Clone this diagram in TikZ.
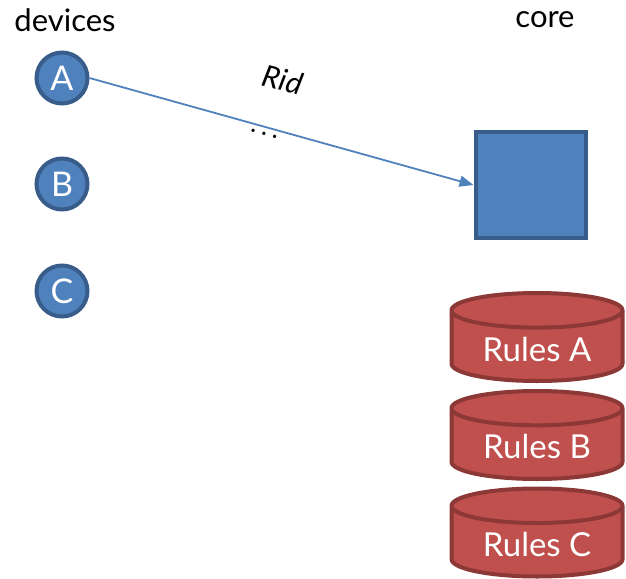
\documentclass[tikz,border=0pt]{standalone}
\usepackage{fontspec}
\setmainfont{Lato}
\usetikzlibrary{arrows.meta,shapes.geometric}
\definecolor{devfill}{HTML}{4F81BD}
\definecolor{devline}{HTML}{385D8A}
\definecolor{rulefill}{HTML}{C0504D}
\definecolor{ruleline}{HTML}{8C3836}
\tikzset{arrowout/.style={-{Triangle[length=14pt,width=11pt]},line width=1.8pt,draw=devfill},dev/.style={circle,draw=devline,fill=devfill,line width=4pt,minimum size=51pt,inner sep=0pt,text=white,font=\fontsize{34}{34}\selectfont},corebox/.style={rectangle,draw=devline,fill=devfill,line width=4pt,minimum width=110pt,minimum height=106pt},rules/.style={cylinder,shape border rotate=90,aspect=0.3,draw=ruleline,fill=rulefill,line width=4pt,minimum width=171pt,minimum height=88pt,anchor=shape center,text=white,font=\fontsize{33}{33}\selectfont},title/.style={font=\fontsize{31}{31}\selectfont}}

\begin{document}
\begin{tikzpicture} [x=1pt,y=-1pt]
\useasboundingbox (0,0) rectangle (626,578);
%devices
\node (devlabel) at (65,20)[title]{devices};
\node (devA) at (62,78)[dev]{A};
\node (devB) at (62,184)[dev]{B};
\node (devC) at (62,291)[dev]{C};

%core
\node (corelabel) at (545,20)[title]{core};
\node (corebox) at (530.5,185)[corebox]{};

%rules
\node (rulesA) at (537,337)[rules]{Rules A};
\node (rulesB) at (537,435)[rules]{Rules B};
\node (rulesC) at (537,532.5)[rules]{Rules C};

%rid
\draw[arrowout] (devA.east) -- (corebox.west);
\node (rid) at (283,80)[rotate=-14,inner sep=0pt,font=\fontsize{30}{30}\selectfont\itshape]{Rid};
\node (ridmore) at (264,134)[rotate=-14,inner sep=0pt,font=\fontsize{26}{26}\selectfont]{.\hspace{5pt}.\hspace{5pt}.};

\end{tikzpicture}
\end{document}
